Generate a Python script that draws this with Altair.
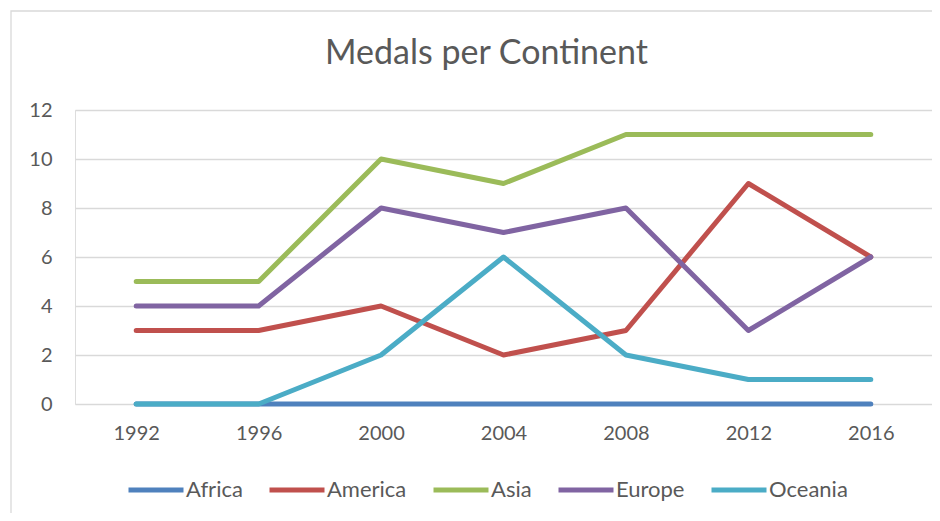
import altair as alt
import pandas as pd

years = ["1992", "1996", "2000", "2004", "2008", "2012", "2016"]
continents = ["Africa", "America", "Asia", "Europe", "Oceania"]
africa = [0, 0, 0, 0, 0, 0, 0]
america = [3, 3, 4, 2, 3, 9, 6]
asia = [5, 5, 10, 9, 11, 11, 11]
europe = [4, 4, 8, 7, 8, 3, 6]
oceania = [0, 0, 2, 6, 2, 1, 1]
colors = ["#4F81BD", "#C0504D", "#9BBB59", "#8064A2", "#4BACC6"]

series = [africa, america, asia, europe, oceania]
rows = []
for ci, (name, vals) in enumerate(zip(continents, series)):
    for y, v in zip(years, vals):
        rows.append({"Year": y, "Continent": name, "Medals": v, "order": ci})
df = pd.DataFrame(rows)

FONT = "Lato"
TXT = "#595959"

frame = alt.Chart(pd.DataFrame({"a": [0]})).mark_rect(
    fill="transparent", stroke="#d9d9d9", strokeWidth=1.3, clip=False
).encode(
    x=alt.value(-64), x2=alt.value(900), y=alt.value(-99), y2=alt.value(430)
)

lines = alt.Chart(df).mark_line(strokeWidth=5, strokeCap="round", strokeJoin="round").encode(
    x=alt.X("Year:O", sort=years,
            scale=alt.Scale(type="point", padding=0.5),
            axis=alt.Axis(title=None, labelAngle=0, domain=False, ticks=False,
                          labelPadding=19, labelFontSize=20, labelFont=FONT,
                          labelColor=TXT, grid=False)),
    y=alt.Y("Medals:Q", scale=alt.Scale(domain=[0, 12]),
            axis=alt.Axis(title=None, values=[0, 2, 4, 6, 8, 10, 12],
                          domain=False, ticks=False, labelPadding=23,
                          labelFontSize=20, labelFont=FONT, labelColor=TXT,
                          grid=True, gridColor="#d9d9d9", gridWidth=1.3)),
    color=alt.Color("Continent:N", sort=continents,
                    scale=alt.Scale(domain=continents, range=colors),
                    legend=alt.Legend(title=None, orient="none", direction="horizontal",
                                      legendX=51, legendY=350, columns=5,
                                      symbolType="stroke", symbolSize=3025,
                                      symbolStrokeWidth=5, labelOffset=0,
                                      columnPadding=16, labelFontSize=22,
                                      labelFont=FONT, labelColor=TXT)),
    order=alt.Order("order:Q"),
)

chart = alt.layer(frame, lines).properties(
    width=857, height=294,
    title=alt.Title("Medals per Continent", fontSize=34, font=FONT, color=TXT,
                    fontWeight="normal", anchor="middle", dx=-17,
                    baseline="alphabetic", offset=-88),
    autosize=alt.AutoSizeParams(type="none"),
    padding={"left": 67, "top": 102, "right": 0, "bottom": 109},
).configure_view(stroke=None).configure(background="white")

chart.save("out.html", embed_options={"renderer": "svg", "actions": False})
